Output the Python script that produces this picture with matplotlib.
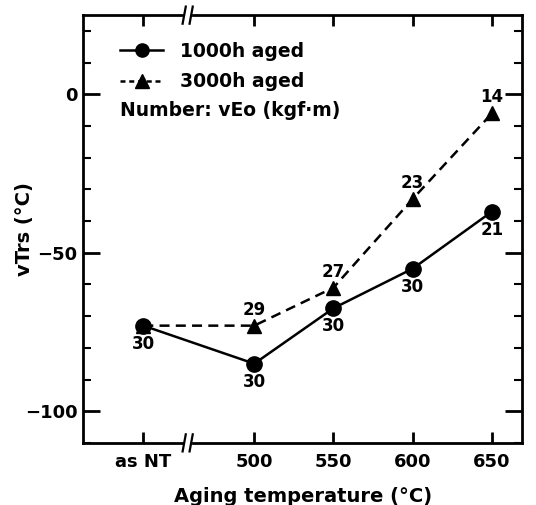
import matplotlib
matplotlib.use("Agg")
import matplotlib.pyplot as plt
from matplotlib.lines import Line2D

plt.rcParams['font.family'] = ['DejaVu Sans']
plt.rcParams['font.weight'] = 'bold'

# Data
categories = ["as NT", "500", "550", "600", "650"]
x_pos = [430, 500, 550, 600, 650]
vtrs_1000h = [-73, -85, -67.5, -55, -37]
vtrs_3000h = [-73, -73, -61, -33, -6]
veo_1000h = ["30", "30", "30", "30", "21"]
veo_3000h = ["", "29", "27", "23", "14"]

fig = plt.figure(figsize=(5.36, 5.05), dpi=100)
ax = fig.add_axes([0.155, 0.123, 0.819, 0.847])

ax.plot(x_pos, vtrs_1000h, color='black', lw=1.8, marker='o', ms=11, zorder=3)
ax.plot(x_pos, vtrs_3000h, color='black', lw=1.8, ls=(0, (4, 2.5)), marker='^', ms=10, zorder=2)

for x, y, t in zip(x_pos, vtrs_1000h, veo_1000h):
    ax.annotate(t, (x, y), xytext=(0, -13), textcoords='offset points',
                ha='center', va='center', fontsize=12, fontweight='bold')
for x, y, t in zip(x_pos, vtrs_3000h, veo_3000h):
    if t:
        ax.annotate(t, (x, y), xytext=(0, 11.5), textcoords='offset points',
                    ha='center', va='center', fontsize=12, fontweight='bold')

ax.set_xlim(392, 669)
ax.set_ylim(-110, 25)
ax.set_xticks(x_pos)
ax.set_xticklabels(categories, fontsize=13, fontweight='bold')
ax.set_yticks([-100, -50, 0])
ax.set_yticklabels(['\u2212100', '\u221250', '0'], fontsize=13, fontweight='bold')
ax.set_yticks(range(-110, 30, 10), minor=True)
ax.tick_params(axis='y', which='major', direction='in', length=12, width=2, right=True, pad=4)
ax.tick_params(axis='y', which='minor', direction='in', length=6, width=1.5, right=True)
ax.tick_params(axis='x', which='major', direction='in', length=8, width=2, top=True, pad=7)
for s in ax.spines.values():
    s.set_linewidth(2)

ax.set_xlabel('Aging temperature (\u00b0C)', fontsize=14, fontweight='bold', labelpad=12)
ax.set_ylabel('vTrs (\u00b0C)', fontsize=14, fontweight='bold')
ax.yaxis.set_label_coords(-0.112, 0.5)

# axis break marks
for yb in (0, 1):
    for dx in (-2.2, 2.2):
        ax.plot([458 + dx - 1.0, 458 + dx + 1.0], [yb - 0.02, yb + 0.02],
                transform=ax.get_xaxis_transform(), color='black', lw=1.6,
                clip_on=False, zorder=5)
    ax.plot([456.8, 459.2], [yb, yb], transform=ax.get_xaxis_transform(),
            color='white', lw=3, clip_on=False, zorder=4)

handles = [Line2D([], [], color='black', lw=1.8, marker='o', ms=9.5),
           Line2D([], [], color='black', lw=1.8, ls=(0, (2, 1.5)), marker='^', ms=9.5)]
ax.legend(handles, ['1000h aged', '3000h aged'], loc='upper left',
          bbox_to_anchor=(0.084, 0.938), frameon=False, fontsize=13.5,
          handlelength=2.3, handletextpad=0.9, labelspacing=0.62,
          borderaxespad=0, borderpad=0)
ax.text(0.084, 0.778, 'Number: vEo (kgf\u00b7m)', transform=ax.transAxes,
        fontsize=13.5, fontweight='bold', ha='left', va='center')

fig.savefig('out.png', dpi=100)
